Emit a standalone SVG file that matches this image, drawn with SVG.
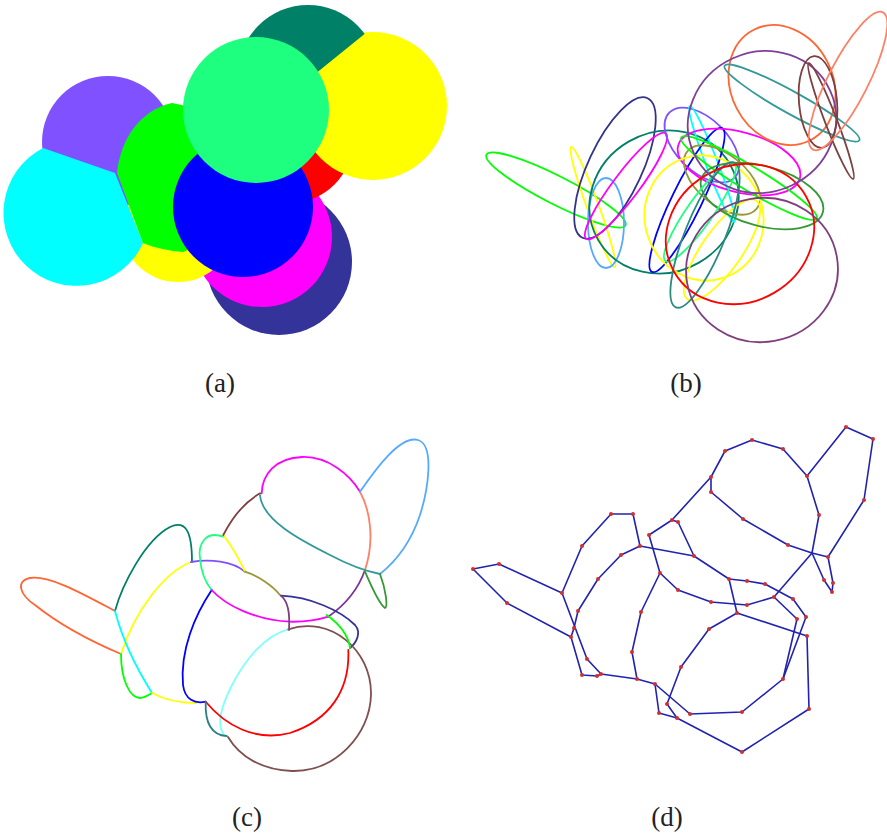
<svg xmlns="http://www.w3.org/2000/svg" width="887" height="837" viewBox="0 0 887 837">
<style>
.lbl{font-family:"Liberation Serif","Times New Roman",serif;font-size:27px;fill:#222;text-anchor:middle}
.e{fill:none;stroke-width:1.8}
.c{fill:none;stroke-width:1.8;stroke-linecap:round}
.dl{fill:none;stroke:#2222b0;stroke-width:1.6;stroke-linejoin:round}
.dot{fill:#d03030}
</style>
<defs>
<clipPath id="tealClip"><polygon points="200,-10 420,-10 367,32 320,70 260,118 200,118"/></clipPath>
</defs>
<rect width="887" height="837" fill="#fff"/>
<!-- (a) -->
<g id="panel-a">
<circle id="a-navy" cx="279" cy="262" r="73" fill="#333399"/>
<circle id="a-magenta" cx="262" cy="237" r="70" fill="#ff00ff"/>
<circle id="a-yellow2" cx="178" cy="225" r="57" fill="#ffff00"/>
<circle id="a-red" cx="290" cy="140" r="63" fill="#ff0000"/>
<circle id="a-yellow" cx="373" cy="106" r="74" fill="#ffff00"/>
<circle id="a-teal" cx="308" cy="75" r="70" fill="#008066" clip-path="url(#tealClip)"/>
<circle id="a-violet" cx="108" cy="142" r="66" fill="#8052ff"/>
<path id="a-cyan" d="M43,148 L115,173 L143,243 A73,73 0 1 1 43,148 Z" fill="#00ffff"/>
<path id="a-green" d="M117,173 C120,140 140,110 172,103 L186,106 L205,160 L188,250 L183,252 C170,251 155,248 143,243 Z" fill="#00ff00"/>
<circle id="a-blue" cx="243" cy="207" r="70" fill="#0000ff"/>
<circle id="a-spring" cx="256" cy="110" r="73" fill="#1eff80"/>
</g>
<!-- (b) -->
<g id="panel-b">
<ellipse class="e" cx="556" cy="190" rx="78" ry="14" transform="rotate(27 556 190)" stroke="#00ff00"/>
<ellipse class="e" cx="593" cy="207" rx="64" ry="6" transform="rotate(70 593 207)" stroke="#ffff00"/>
<ellipse class="e" cx="606" cy="223" rx="18" ry="45" stroke="#55aaff"/>
<ellipse class="e" cx="615" cy="168" rx="77" ry="27" transform="rotate(-65 615 168)" stroke="#333388"/>
<ellipse class="e" cx="664" cy="202" rx="76" ry="70" transform="rotate(-30 664 202)" stroke="#008066"/>
<ellipse class="e" cx="626" cy="186" rx="66" ry="13" transform="rotate(-53 626 186)" stroke="#ff00ff"/>
<ellipse class="e" cx="702" cy="145" rx="46" ry="26" transform="rotate(45 702 145)" stroke="#8052ff"/>
<ellipse class="e" cx="712" cy="164" rx="62" ry="6" transform="rotate(69 712 164)" stroke="#00ffff"/>
<ellipse class="e" cx="687" cy="200" rx="80" ry="15" transform="rotate(-64 687 200)" stroke="#0000ff"/>
<ellipse class="e" cx="739" cy="162" rx="63" ry="30" transform="rotate(15 739 162)" stroke="#ff00ff"/>
<ellipse class="e" cx="722" cy="180" rx="45" ry="25" transform="rotate(40 722 180)" stroke="#999933"/>
<ellipse class="e" cx="704" cy="218" rx="59" ry="63" transform="rotate(-20 704 218)" stroke="#ffff00"/>
<ellipse class="e" cx="722" cy="250" rx="60" ry="20" transform="rotate(-55 722 250)" stroke="#ffff00"/>
<ellipse class="e" cx="749" cy="178" rx="79" ry="12" transform="rotate(31 749 178)" stroke="#00ff00"/>
<ellipse class="e" cx="762" cy="196" rx="63" ry="30" transform="rotate(15 762 196)" stroke="#339933"/>
<ellipse class="e" cx="700" cy="212" rx="60" ry="13" transform="rotate(-55 700 212)" stroke="#20ff80"/>
<ellipse class="e" cx="705" cy="235" rx="78" ry="20" transform="rotate(-68 705 235)" stroke="#2b8a80"/>
<ellipse class="e" cx="740" cy="234" rx="76" ry="68" transform="rotate(-30 740 234)" stroke="#ff0000"/>
<ellipse class="e" cx="762" cy="270" rx="76" ry="72" transform="rotate(-10 762 270)" stroke="#7f3f7f"/>
<ellipse class="e" cx="782" cy="85" rx="62" ry="51" transform="rotate(63 782 85)" stroke="#ff6633"/>
<ellipse class="e" cx="762" cy="122" rx="75" ry="70" transform="rotate(-25 762 122)" stroke="#7f3f98"/>
<ellipse class="e" cx="792" cy="103" rx="77" ry="11" transform="rotate(29 792 103)" stroke="#339999"/>
<ellipse class="e" cx="818" cy="102" rx="19" ry="46" transform="rotate(-5 818 102)" stroke="#7f3f3f"/>
<ellipse class="e" cx="831" cy="121" rx="62" ry="6" transform="rotate(69 831 121)" stroke="#7f3f3f"/>
<ellipse class="e" cx="848" cy="81" rx="77" ry="20" transform="rotate(-63 848 81)" stroke="#ff8066"/>
</g>
<!-- (c) -->
<g id="panel-c">
<path class="c" stroke="#ff6633" d="M115,611 C85,595 50,575 30,578 C15,581 20,595 35,605 C60,625 95,643 121,654"/>
<path class="c" stroke="#007f66" d="M115,611 C122,585 145,540 170,527 C185,520 192,530 192,562"/>
<path class="c" stroke="#ffff00" d="M191,562 C165,572 135,610 121,654"/>
<path class="c" stroke="#00ffff" d="M115,611 Q125,650 152,693"/>
<path class="c" stroke="#00ff00" d="M121,654 C121,680 130,698 140,698 C145,698 148,695 152,693"/>
<path class="c" stroke="#ffff00" d="M152,693 C165,700 180,703 196,703"/>
<path class="c" stroke="#0000ff" d="M211.7,590 C195,615 180,650 183,685 C185,700 195,704 205.7,701.7"/>
<path class="c" stroke="#8050ff" d="M191,562 C210,559 232,561 245,571.7"/>
<path class="c" stroke="#20ff80" d="M223.3,536.7 C205,530 198,545 200,558 C201,572 205,582 211.7,590"/>
<path class="c" stroke="#ff00ff" d="M211.7,590 C225,605 255,620 290,621.7 C305,622 318,620 328.3,616.7"/>
<path class="c" stroke="#803399" d="M328.3,616.7 C345,605 358,590 365,570"/>
<path class="c" stroke="#ffff00" d="M223.3,535 Q236,552 245,571.7"/>
<path class="c" stroke="#999933" d="M245,571.7 C258,576 272,585 280,595"/>
<path class="c" stroke="#333399" d="M281,595.7 C310,597 340,610 355,625 C362,633 356,643 350,648"/>
<path class="c" stroke="#7f3f7f" d="M281,595.7 C288,602 290,612 289,630"/>
<path class="c" stroke="#80ffff" d="M288.3,629.3 C265,635 245,660 232,685 C222,705 215,725 225,736"/>
<path class="c" stroke="#7f4f4f" d="M288.3,629.3 C330,615 372,650 371,695 C370,735 335,772 292,771 C262,770 240,757 228,737"/>
<path class="c" stroke="#ff0000" d="M348.3,650 C350,690 330,720 290,733 C255,742 225,725 205.7,701.7"/>
<path class="c" stroke="#00ff00" d="M326.7,615 C338,623 348,633 350,648"/>
<path class="c" stroke="#2b8080" d="M205.7,701.7 C205,720 210,735 226.7,736"/>
<path class="c" stroke="#804040" d="M223.3,535 C232,518 245,502 260,493.3"/>
<path class="c" stroke="#ff00ff" d="M261.7,493.3 C262,475 275,458 302,457 C328,456 350,475 360,491.7"/>
<path class="c" stroke="#ff8066" d="M360,491.7 C370,510 375,540 365,570"/>
<path class="c" stroke="#55aaff" d="M360,491.7 C375,470 400,435 418,440 C435,445 428,490 420,515 C410,545 395,562 380,574"/>
<path class="c" stroke="#339999" d="M260,495 C262,520 300,540 330,555 C345,563 360,570 380,574"/>
<path class="c" stroke="#339933" d="M365,571.7 C372,588 380,605 385,608 C388,607 386,590 380,574"/>
</g>
<!-- (d) -->
<g id="panel-d">
<g id="d-edges">
<polyline class="dl" points="562,593 499,564 473,569 507,603 571,637"/>
<polyline class="dl" points="562,593 582,546 611,514 633,514 640,546"/>
<polyline class="dl" points="640,546 621,555 598,579 578,611 574,628 571,637"/>
<polyline class="dl" points="562,593 587,659 601,674"/>
<polyline class="dl" points="571,637 582,675 597,676 601,674 637,679"/>
<polyline class="dl" points="637,679 632,652 641,612 660,573"/>
<polyline class="dl" points="637,679 655,684 690,714 742,712 783,679 797,619"/>
<polyline class="dl" points="655,684 659,713 677,718"/>
<polyline class="dl" points="737,613 709,629 681,667 667,704 677,718"/>
<polyline class="dl" points="677,718 742,752 809,709 807,636 737,613"/>
<polyline class="dl" points="660,573 678,590 711,602 747,605 774,597"/>
<polyline class="dl" points="660,573 649,535 672,520 678,522"/>
<polyline class="dl" points="640,546 694,556"/>
<polyline class="dl" points="678,522 694,556 729,579"/>
<polyline class="dl" points="729,579 747,581 765,584 793,599 806,617 783,679"/>
<polyline class="dl" points="774,597 797,619"/>
<polyline class="dl" points="729,579 737,613"/>
<polyline class="dl" points="672,520 711,477 725,451 752,440 783,449 807,476"/>
<polyline class="dl" points="807,476 819,515 812,553 774,597"/>
<polyline class="dl" points="807,476 846,427 873,439 864,500 828,557"/>
<polyline class="dl" points="711,477 711,492 743,519 788,545 812,553 828,557"/>
<polyline class="dl" points="812,553 824,580 832,592 833,583 828,557"/>
</g>
<g id="d-nodes" class="dot">
<circle cx="473" cy="569" r="2"/><circle cx="499" cy="564" r="2"/><circle cx="562" cy="593" r="2"/><circle cx="507" cy="603" r="2"/><circle cx="571" cy="637" r="2"/>
<circle cx="582" cy="546" r="2"/><circle cx="611" cy="514" r="2"/><circle cx="633" cy="514" r="2"/><circle cx="640" cy="546" r="2"/><circle cx="621" cy="555" r="2"/>
<circle cx="598" cy="579" r="2"/><circle cx="578" cy="611" r="2"/><circle cx="574" cy="628" r="2"/><circle cx="587" cy="659" r="2"/><circle cx="582" cy="675" r="2"/>
<circle cx="597" cy="676" r="2"/><circle cx="601" cy="674" r="2"/><circle cx="637" cy="679" r="2"/><circle cx="632" cy="652" r="2"/><circle cx="641" cy="612" r="2"/>
<circle cx="660" cy="573" r="2"/><circle cx="649" cy="535" r="2"/><circle cx="672" cy="520" r="2"/><circle cx="678" cy="522" r="2"/><circle cx="694" cy="556" r="2"/>
<circle cx="711" cy="477" r="2"/><circle cx="711" cy="492" r="2"/><circle cx="725" cy="451" r="2"/><circle cx="752" cy="440" r="2"/><circle cx="783" cy="449" r="2"/>
<circle cx="807" cy="476" r="2"/><circle cx="846" cy="427" r="2"/><circle cx="873" cy="439" r="2"/><circle cx="864" cy="500" r="2"/><circle cx="819" cy="515" r="2"/>
<circle cx="743" cy="519" r="2"/><circle cx="788" cy="545" r="2"/><circle cx="828" cy="557" r="2"/><circle cx="824" cy="580" r="2"/><circle cx="833" cy="583" r="2"/>
<circle cx="832" cy="592" r="2"/><circle cx="729" cy="579" r="2"/><circle cx="747" cy="581" r="2"/><circle cx="765" cy="584" r="2"/><circle cx="774" cy="597" r="2"/>
<circle cx="793" cy="599" r="2"/><circle cx="806" cy="617" r="2"/><circle cx="797" cy="619" r="2"/><circle cx="807" cy="636" r="2"/><circle cx="809" cy="709" r="2"/>
<circle cx="742" cy="752" r="2"/><circle cx="678" cy="590" r="2"/><circle cx="711" cy="602" r="2"/><circle cx="747" cy="605" r="2"/><circle cx="737" cy="613" r="2"/>
<circle cx="709" cy="629" r="2"/><circle cx="681" cy="667" r="2"/><circle cx="667" cy="704" r="2"/><circle cx="690" cy="714" r="2"/><circle cx="742" cy="712" r="2"/>
<circle cx="783" cy="679" r="2"/><circle cx="655" cy="684" r="2"/><circle cx="659" cy="713" r="2"/><circle cx="677" cy="718" r="2"/>
</g>
</g>
<g id="labels">
<text class="lbl" x="220" y="392">(a)</text>
<text class="lbl" x="686" y="392">(b)</text>
<text class="lbl" x="247" y="826">(c)</text>
<text class="lbl" x="667" y="826">(d)</text>
</g>
</svg>
